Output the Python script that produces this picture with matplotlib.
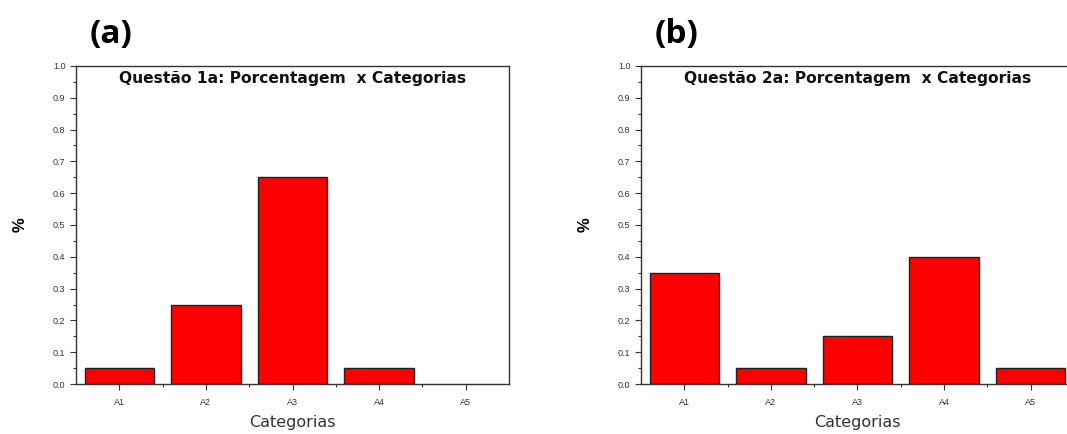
import matplotlib
matplotlib.use("Agg")
import matplotlib.pyplot as plt
from matplotlib.ticker import MultipleLocator, FixedLocator

categories = ["A1", "A2", "A3", "A4", "A5"]
values_a = [0.05, 0.25, 0.65, 0.05, 0.0]
values_b = [0.35, 0.05, 0.15, 0.40, 0.05]
titles = ["Questão 1a: Porcentagem  x Categorias", "Questão 2a: Porcentagem  x Categorias"]
panel_labels = ["(a)", "(b)"]

W, H = 1067, 434
fig = plt.figure(figsize=(W / 100, H / 100), dpi=100)

lefts = [76, 641]
for i, (vals, title, plab) in enumerate(zip([values_a, values_b], titles, panel_labels)):
    ax = fig.add_axes([lefts[i] / W, (H - 384) / H, 433 / W, 318 / H])
    x = list(range(1, len(categories) + 1))
    ax.bar(x, vals, width=0.8, color="#ff0000", edgecolor="#222222",
           linewidth=[1.0 if v > 0 else 0 for v in vals])
    ax.set_xlim(0.5, 5.5)
    ax.set_ylim(0, 1.0)
    ax.set_xticks(x)
    ax.set_xticklabels(categories, fontsize=6.5, color="#333333", family="Liberation Sans")
    ax.xaxis.set_minor_locator(FixedLocator([1.5, 2.5, 3.5, 4.5]))
    ax.yaxis.set_major_locator(MultipleLocator(0.1))
    ax.yaxis.set_minor_locator(MultipleLocator(0.05))
    ax.set_yticklabels([f"{v:.1f}" for v in ax.get_yticks()], fontsize=6.5, color="#333333",
                       family="Liberation Sans")
    ax.tick_params(axis="both", which="major", direction="out", length=4, width=0.8, color="#333333")
    ax.tick_params(axis="both", which="minor", direction="out", length=2.5, width=0.8, color="#333333")
    ax.tick_params(axis="x", pad=6)
    for s in ax.spines.values():
        s.set_linewidth(1.0)
        s.set_color("#333333")
    ax.text(0.5, 0.96, title, transform=ax.transAxes, ha="center", va="center",
            fontsize=11.2, fontweight="bold", family="DejaVu Sans", color="#111111")
    ax.set_xlabel("Categorias", fontsize=11.5, family="DejaVu Sans", color="#333333", labelpad=6)
    ax.set_ylabel("%", fontsize=12, fontweight="bold", family="Liberation Sans", labelpad=18)
    fig.text((lefts[i] + 14) / W, (H - 34) / H, plab, fontsize=24, fontweight="bold",
             family="Open Sans", ha="left", va="center")

fig.savefig("out.png", dpi=100)
